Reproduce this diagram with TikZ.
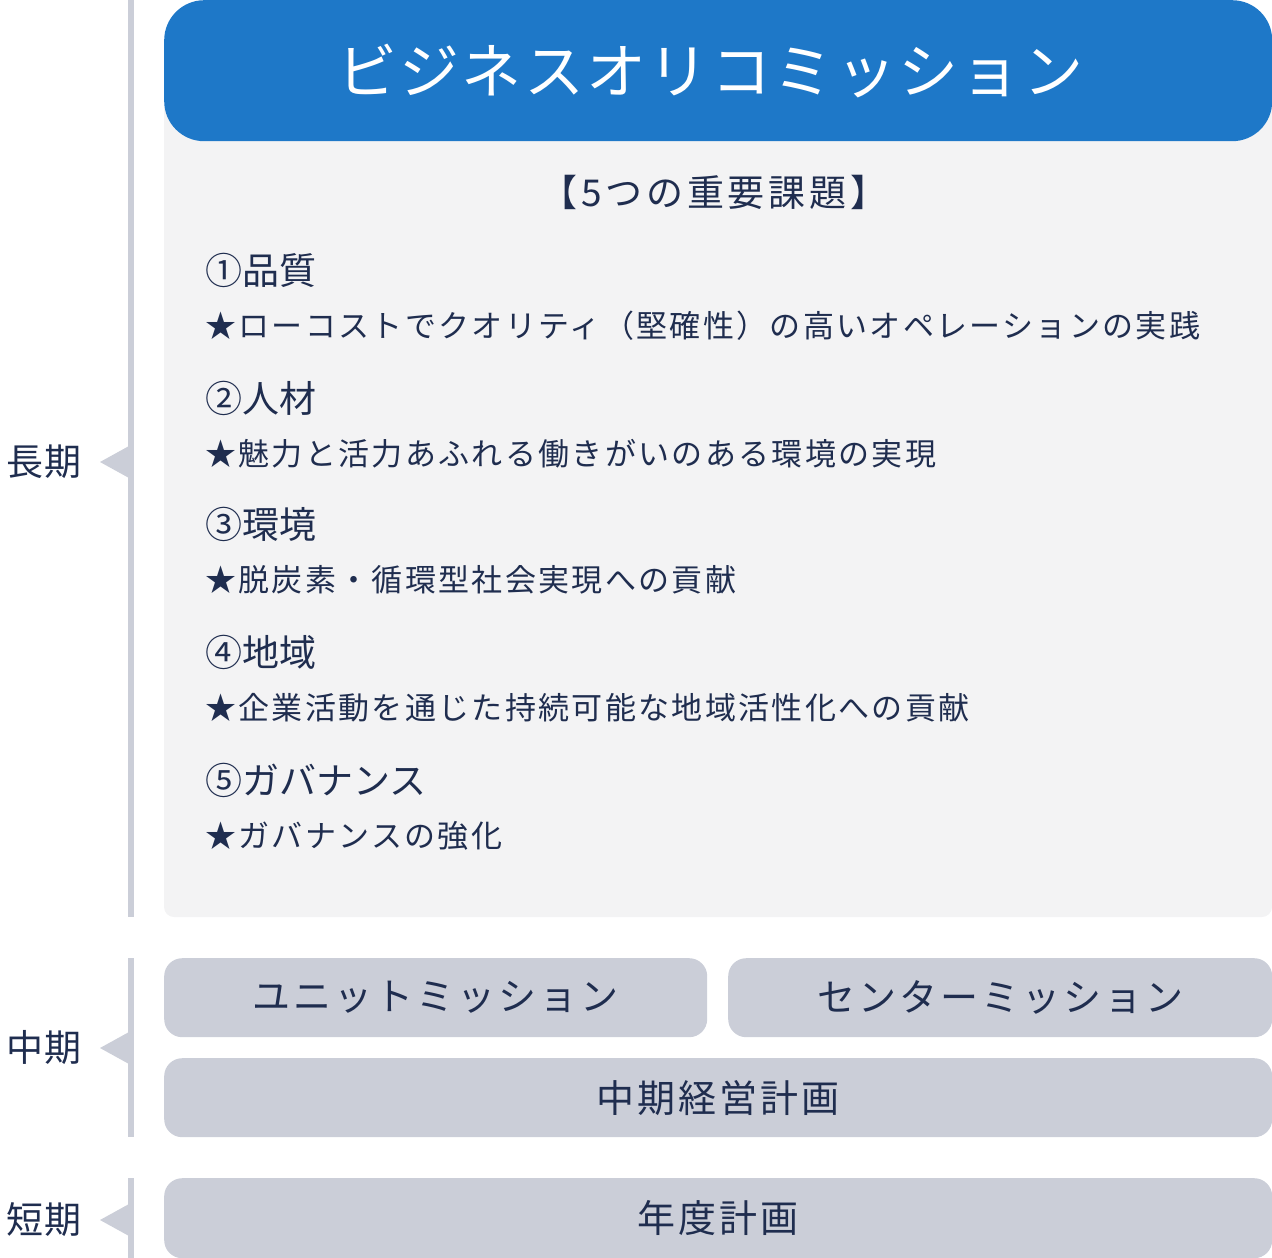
\documentclass[tikz,border=0pt]{standalone}
\usepackage{fontspec}
\setmainfont{Noto Sans CJK JP}
\newfontfamily\titlefont[LetterSpace=4]{Noto Sans CJK JP}
\newfontfamily\pillfont[LetterSpace=8]{Noto Sans CJK JP}
\newfontfamily\termfont[LetterSpace=4]{Noto Sans CJK JP}
\newfontfamily\headfont[LetterSpace=10]{Noto Sans CJK JP}
\newfontfamily\descfont[LetterSpace=7.5]{Noto Sans CJK JP}
\usetikzlibrary{positioning}
\definecolor{oriblue}{HTML}{1E78C8}
\definecolor{panelgray}{HTML}{F3F3F4}
\definecolor{pillgray}{HTML}{CBCED8}
\definecolor{navy}{HTML}{1F2D4F}
\tikzset{
    pill/.style={fill=pillgray,rounded corners=18pt,inner sep=0pt,anchor=north west,
        text=navy,font=\pillfont\fontsize{38}{42}\selectfont},
    term/.style={anchor=east,inner sep=0pt,text=navy,font=\termfont\fontsize{37}{40}\selectfont},
    itemhead/.style={anchor=west,inner sep=0pt,text=navy,font=\fontsize{37}{40}\selectfont},
    itemdesc/.style={anchor=west,inner sep=0pt,text=navy,font=\descfont\fontsize{31}{34}\selectfont}
}

\begin{document}
\begin{tikzpicture}[x=1pt,y=-1pt]
    \useasboundingbox (0,0) rectangle (1272,1258);

    % Left time bars with pointers
    \fill[pillgray] (128,0) rectangle (134,917);
    \fill[pillgray] (128,958) rectangle (134,1137);
    \fill[pillgray] (128,1178) rectangle (134,1258);
    \fill[pillgray] (100,462) -- (129,446) -- (129,478) -- cycle;
    \fill[pillgray] (100,1048) -- (129,1032) -- (129,1064) -- cycle;
    \fill[pillgray] (100,1220) -- (129,1204) -- (129,1236) -- cycle;
    \node[term] (long) at (82,462) {長期};
    \node[term] (middle) at (82,1048) {中期};
    \node[term] (short) at (82,1220) {短期};

    % Long term: mission and five issues
    \fill[panelgray,rounded corners=10pt] (164,100) rectangle (1272,917);
    \node[anchor=north west,minimum width=1108pt,minimum height=141pt,inner sep=0pt,
        fill=oriblue,rounded corners=40pt,text=white,
        font=\titlefont\fontsize{60}{70}\selectfont] (mission) at (164,0) {\hspace*{-16pt}ビジネスオリコミッション};
    \node[inner sep=0pt,text=navy,font=\headfont\fontsize{37}{40}\selectfont] (issues) at (714,192) {【5つの重要課題】};

    \foreach \n/\y/\head/\body in {
        1/270/①品質/★ローコストでクオリティ（堅確性）の高いオペレーションの実践,
        2/398/②人材/★魅力と活力あふれる働きがいのある環境の実現,
        3/524/③環境/★脱炭素・循環型社会実現への貢献,
        4/652/④地域/★企業活動を通じた持続可能な地域活性化への貢献,
        5/780/⑤ガバナンス/★ガバナンスの強化}
    {
        \node[itemhead] (item\n) at (205,\y) {\head};
        \node[itemdesc] (desc\n) at (205,\y+56) {\body};
    }

    % Middle and short term plans
    \node[pill,minimum width=543pt,minimum height=79pt] (unit) at (164,958) {ユニットミッション};
    \node[pill,minimum width=544pt,minimum height=79pt] (center) at (728,958) {センターミッション};
    \node[pill,minimum width=1108pt,minimum height=79pt] (midplan) at (164,1058) {中期経営計画};
    \node[pill,minimum width=1108pt,minimum height=80pt] (yearplan) at (164,1178) {年度計画};
\end{tikzpicture}
\end{document}
